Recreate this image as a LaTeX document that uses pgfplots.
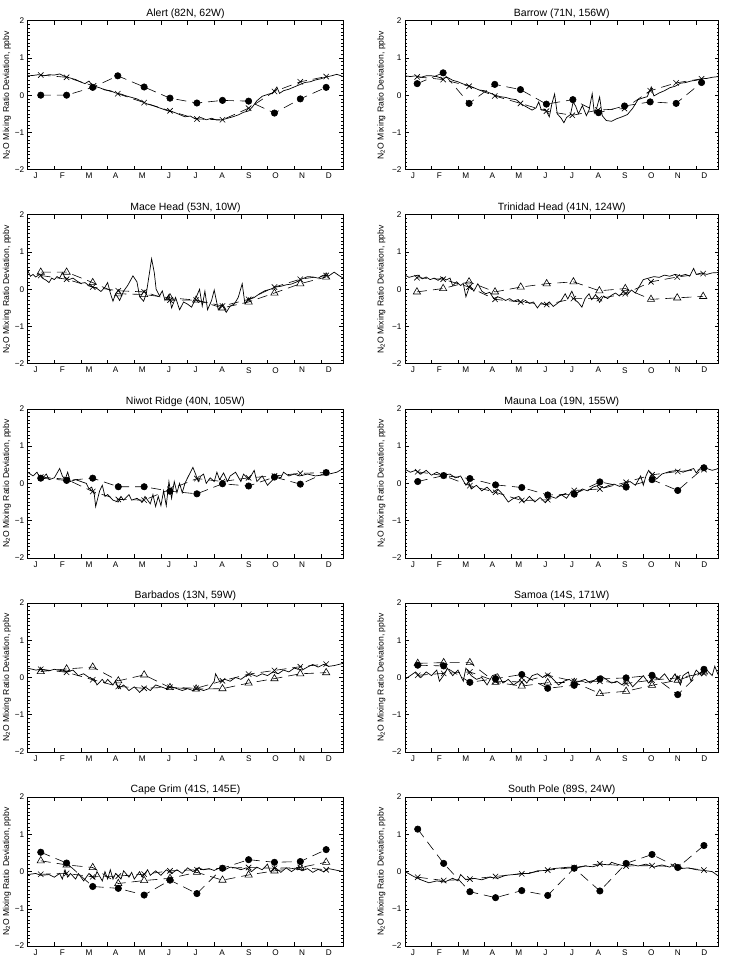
\documentclass[border=0pt]{standalone}
\usepackage{fontspec}
\setmainfont{Liberation Sans}
\usepackage{pgfplots}
\pgfplotsset{compat=1.18}

\pgfplotsset{
  station/.style={
    scale only axis, height=149pt,
    anchor=south west,
    xmin=0, xmax=11.84, ymin=-2, ymax=2,
    xtick={1,2,...,11}, xticklabels={},
    extra x ticks={0.3,1.3,2.3,3.3,4.3,5.3,6.3,7.3,8.3,9.3,10.3,11.3},
    extra x tick labels={J,F,M,A,M,J,J,A,S,O,N,D},
    extra x tick style={major tick length=0pt},
    ytick={-2,-1,0,1,2}, yticklabels={−2,−1,0,1,2},
    minor y tick num=9,
    major tick length=4pt, minor tick length=2pt,
    tick style={black, line width=0.6pt},
    axis line style={line width=0.7pt},
    ticklabel style={font=\fontsize{8.2}{9}\selectfont},
    title style={font=\fontsize{10.5}{12}\selectfont, yshift=-7.5pt},
    ylabel={N\textsubscript{2}O Mixing Ratio Deviation, ppbv},
  },
  leftcol/.style={station, width=315.5pt,
    every axis y label/.style={at={(axis description cs:-0.066,0.5)}, rotate=90, anchor=center,
      font=\fontsize{8.6}{9}\selectfont}},
  rightcol/.style={station, width=313.5pt,
    every axis y label/.style={at={(axis description cs:-0.075,0.5)}, rotate=90, anchor=center,
      font=\fontsize{8.6}{9}\selectfont}},
  obs/.style={black, line width=0.7pt, no markers},
  xser/.style={black, line width=0.6pt, dash pattern=on 10pt off 6pt, mark=x, mark size=3.8pt, mark options={solid}},
  cser/.style={black, line width=0.6pt, dash pattern=on 10pt off 6pt, mark=*, mark size=3.2pt, mark options={solid, fill=black}},
  tser/.style={black, line width=0.6pt, dash pattern=on 10pt off 6pt, mark=triangle, mark size=4.2pt, mark options={solid, fill=none}},
}

\begin{document}
\begin{tikzpicture}
\useasboundingbox (0,0) rectangle (734pt,957pt);

% ---- row 1
\begin{axis}[leftcol, at={(27.7pt,787.3pt)}, title={Alert (82N, 62W)}]
\addplot[obs] coordinates {(0,0.52)(0.2,0.53)(0.4,0.55)(0.6,0.52)(0.8,0.55)(1.0,0.54)(1.2,0.57)(1.4,0.50)(1.6,0.46)(1.8,0.42)(2.0,0.35)(2.15,0.31)(2.3,0.38)(2.4,0.28)(2.5,0.24)(2.7,0.20)(2.9,0.14)(3.1,0.12)(3.3,0.06)(3.5,0.03)(3.7,-0.02)(3.9,-0.06)(4.1,-0.10)(4.3,-0.17)(4.5,-0.24)(4.7,-0.28)(4.9,-0.33)(5.1,-0.38)(5.3,-0.43)(5.5,-0.46)(5.7,-0.52)(5.9,-0.58)(6.1,-0.56)(6.3,-0.64)(6.5,-0.60)(6.7,-0.66)(6.9,-0.62)(7.1,-0.67)(7.3,-0.66)(7.5,-0.62)(7.7,-0.58)(7.9,-0.53)(8.1,-0.46)(8.3,-0.42)(8.45,-0.30)(8.6,-0.15)(8.8,-0.03)(9.0,0.02)(9.2,0.06)(9.35,0.22)(9.45,0.05)(9.6,0.12)(9.8,0.16)(10.0,0.22)(10.2,0.28)(10.4,0.34)(10.6,0.36)(10.8,0.41)(11.0,0.44)(11.2,0.49)(11.4,0.52)(11.6,0.56)(11.84,0.50)};
\addplot[xser] coordinates {(0.49,0.54)(1.46,0.48)(2.47,0.25)(3.38,0.04)(4.37,-0.20)(5.34,-0.42)(6.35,-0.64)(7.31,-0.66)(8.29,-0.35)(9.26,0.10)(10.23,0.36)(11.2,0.50)};
\addplot[cser] coordinates {(0.49,0.0)(1.46,0.0)(2.44,0.21)(3.38,0.52)(4.37,0.22)(5.34,-0.08)(6.35,-0.21)(7.31,-0.14)(8.29,-0.16)(9.26,-0.48)(10.23,-0.10)(11.2,0.21)};
\end{axis}

\begin{axis}[rightcol, at={(405pt,787.3pt)}, title={Barrow (71N, 156W)}]
\addplot[obs] coordinates {(0,0.52)(0.2,0.50)(0.4,0.52)(0.6,0.48)(0.8,0.52)(1.0,0.52)(1.2,0.50)(1.4,0.45)(1.6,0.48)(1.8,0.40)(2.0,0.36)(2.2,0.30)(2.4,0.26)(2.6,0.20)(2.8,0.14)(3.0,0.12)(3.2,0.06)(3.4,0.0)(3.6,-0.04)(3.8,-0.06)(4.0,-0.10)(4.2,-0.12)(4.4,-0.24)(4.6,-0.32)(4.8,-0.40)(4.95,-0.34)(5.05,-0.18)(5.15,-0.40)(5.3,-0.38)(5.45,-0.58)(5.55,-0.22)(5.65,0.03)(5.75,-0.50)(5.9,-0.62)(6.0,-0.74)(6.1,-0.60)(6.25,-0.52)(6.35,-0.18)(6.45,-0.30)(6.55,-0.50)(6.7,-0.28)(6.85,-0.55)(6.95,-0.40)(7.07,0.04)(7.15,-0.48)(7.25,-0.32)(7.35,-0.05)(7.45,-0.55)(7.6,-0.68)(7.8,-0.70)(8.0,-0.63)(8.2,-0.58)(8.4,-0.52)(8.6,-0.35)(8.8,-0.12)(9.0,-0.07)(9.15,-0.04)(9.3,0.22)(9.4,-0.02)(9.6,0.06)(9.8,0.12)(10.0,0.20)(10.2,0.24)(10.4,0.32)(10.6,0.34)(10.8,0.38)(11.0,0.40)(11.2,0.44)(11.4,0.45)(11.6,0.48)(11.84,0.50)};
\addplot[xser] coordinates {(0.46,0.49)(1.44,0.42)(2.42,0.24)(3.39,-0.02)(4.36,-0.22)(5.34,-0.43)(6.32,-0.54)(7.29,-0.40)(8.29,-0.36)(9.26,0.12)(10.24,0.33)(11.2,0.44)};
\addplot[cser] coordinates {(0.46,0.31)(1.44,0.60)(2.42,-0.22)(3.39,0.29)(4.36,0.15)(5.34,-0.24)(6.34,-0.12)(7.31,-0.47)(8.29,-0.29)(9.26,-0.18)(10.24,-0.22)(11.2,0.34)};
\end{axis}

% ---- row 2
\begin{axis}[leftcol, at={(27.7pt,593.2pt)}, title={Mace Head (53N, 10W)}]
\addplot[obs] coordinates {(0,0.51)(0.1,0.35)(0.2,0.40)(0.3,0.33)(0.45,0.40)(0.55,0.30)(0.7,0.24)(0.8,0.18)(0.9,0.30)(1.0,0.26)(1.1,0.34)(1.2,0.30)(1.3,0.45)(1.4,0.32)(1.55,0.26)(1.7,0.30)(1.85,0.22)(2.0,0.16)(2.15,0.18)(2.3,0.10)(2.45,0.06)(2.6,0.02)(2.75,-0.06)(2.9,0.06)(3.0,0.18)(3.1,-0.10)(3.2,-0.32)(3.3,-0.12)(3.45,-0.30)(3.6,-0.05)(3.75,0.10)(3.95,0.36)(4.1,0.20)(4.2,-0.20)(4.35,-0.32)(4.45,-0.12)(4.55,0.35)(4.65,0.82)(4.75,0.45)(4.82,0.0)(4.95,-0.18)(5.05,-0.04)(5.15,-0.30)(5.3,-0.14)(5.4,-0.50)(5.55,-0.22)(5.7,-0.55)(5.85,-0.34)(6.0,-0.40)(6.15,-0.48)(6.3,-0.25)(6.45,0.0)(6.55,-0.45)(6.65,-0.05)(6.75,-0.55)(6.9,-0.30)(7.0,-0.02)(7.15,-0.55)(7.3,-0.42)(7.45,-0.62)(7.6,-0.45)(7.75,-0.40)(7.9,-0.22)(8.05,0.15)(8.15,-0.38)(8.3,-0.28)(8.5,-0.22)(8.7,-0.12)(8.9,-0.04)(9.1,0.0)(9.3,0.06)(9.5,0.08)(9.7,0.12)(9.9,0.14)(10.1,0.20)(10.3,0.28)(10.5,0.34)(10.7,0.33)(10.9,0.30)(11.1,0.38)(11.3,0.36)(11.5,0.46)(11.7,0.36)(11.84,0.30)};
\addplot[xser] coordinates {(0.49,0.37)(1.46,0.27)(2.44,0.06)(3.40,-0.04)(4.37,-0.07)(5.34,-0.29)(6.32,-0.29)(7.31,-0.45)(8.29,-0.27)(9.26,0.06)(10.23,0.27)(11.2,0.37)};
\addplot[tser] coordinates {(0.49,0.46)(1.46,0.46)(2.44,0.18)(3.40,-0.12)(4.37,-0.14)(5.34,-0.23)(6.32,-0.29)(7.31,-0.50)(8.29,-0.34)(9.26,-0.10)(10.23,0.15)(11.2,0.33)};
\end{axis}

\begin{axis}[rightcol, at={(405pt,593.2pt)}, title={Trinidad Head (41N, 124W)}]
\addplot[obs] coordinates {(0,0.38)(0.15,0.32)(0.3,0.35)(0.5,0.38)(0.65,0.28)(0.8,0.33)(0.95,0.26)(1.1,0.30)(1.25,0.24)(1.4,0.32)(1.55,0.25)(1.7,0.30)(1.8,0.10)(1.95,0.20)(2.1,0.10)(2.2,0.16)(2.3,-0.20)(2.45,0.10)(2.6,-0.05)(2.75,0.15)(2.9,-0.05)(3.05,-0.12)(3.2,-0.08)(3.35,-0.25)(3.5,-0.20)(3.65,-0.24)(3.8,-0.30)(3.95,-0.25)(4.1,-0.32)(4.25,-0.28)(4.4,-0.36)(4.55,-0.30)(4.7,-0.38)(4.85,-0.34)(5.0,-0.50)(5.15,-0.36)(5.3,-0.42)(5.45,-0.34)(5.6,-0.46)(5.75,-0.38)(5.9,-0.30)(6.05,-0.12)(6.15,-0.26)(6.3,-0.05)(6.45,-0.30)(6.55,-0.36)(6.68,-0.48)(6.8,-0.25)(6.95,-0.12)(7.05,-0.28)(7.2,-0.14)(7.35,-0.35)(7.5,-0.18)(7.65,-0.25)(7.8,-0.16)(7.95,-0.10)(8.1,-0.18)(8.25,-0.05)(8.4,-0.14)(8.55,-0.02)(8.7,-0.10)(8.85,0.08)(9.0,0.26)(9.2,0.30)(9.4,0.34)(9.6,0.32)(9.8,0.38)(10.0,0.35)(10.2,0.40)(10.4,0.36)(10.6,0.40)(10.75,0.35)(10.9,0.56)(11.0,0.40)(11.2,0.44)(11.4,0.40)(11.6,0.44)(11.84,0.45)};
\addplot[xser] coordinates {(0.45,0.31)(1.44,0.27)(2.42,0.06)(3.40,-0.27)(4.37,-0.34)(5.35,-0.41)(6.36,-0.25)(7.34,-0.25)(8.32,-0.12)(9.29,0.20)(10.28,0.33)(11.26,0.42)};
\addplot[tser] coordinates {(0.45,-0.07)(1.44,0.02)(2.42,0.20)(3.40,-0.07)(4.37,0.06)(5.35,0.15)(6.36,0.20)(7.34,-0.04)(8.32,0.02)(9.29,-0.27)(10.28,-0.23)(11.26,-0.19)};
\end{axis}

% ---- row 3
\begin{axis}[leftcol, at={(27.7pt,399.1pt)}, title={Niwot Ridge (40N, 105W)}]
\addplot[obs] coordinates {(0,0.30)(0.2,0.20)(0.35,0.30)(0.5,0.10)(0.7,0.25)(0.8,0.10)(1.0,0.15)(1.2,0.40)(1.3,0.20)(1.4,0.10)(1.5,0.30)(1.6,0.05)(1.8,0.10)(2.0,0.05)(2.2,0.0)(2.3,-0.15)(2.4,-0.10)(2.5,-0.30)(2.55,-0.62)(2.7,-0.20)(2.8,-0.05)(2.9,-0.35)(3.0,-0.30)(3.2,-0.45)(3.4,-0.50)(3.5,-0.35)(3.6,-0.45)(3.8,-0.30)(3.9,-0.45)(4.1,-0.40)(4.3,-0.50)(4.4,-0.35)(4.6,-0.55)(4.7,-0.30)(4.8,-0.62)(4.9,-0.35)(5.0,-0.60)(5.1,-0.20)(5.2,-0.60)(5.3,0.05)(5.4,-0.40)(5.5,0.05)(5.6,-0.25)(5.7,0.0)(5.8,-0.25)(5.9,0.0)(6.0,0.15)(6.2,0.43)(6.3,0.25)(6.4,0.05)(6.5,0.20)(6.6,0.25)(6.7,0.0)(6.85,0.15)(7.0,0.05)(7.1,0.30)(7.2,0.10)(7.35,0.28)(7.5,0.05)(7.6,0.20)(7.8,0.30)(8.0,0.05)(8.1,0.25)(8.3,0.10)(8.5,0.35)(8.6,0.05)(8.8,0.20)(9.0,-0.05)(9.2,0.10)(9.3,0.20)(9.5,0.15)(9.6,0.30)(9.8,0.20)(10.0,0.25)(10.2,0.20)(10.5,0.25)(10.8,0.20)(11.0,0.22)(11.3,0.25)(11.6,0.30)(11.84,0.40)};
\addplot[xser] coordinates {(0.49,0.17)(1.46,0.11)(2.44,-0.22)(3.40,-0.43)(4.37,-0.45)(5.34,-0.16)(6.35,0.13)(7.31,0.05)(8.29,0.15)(9.26,0.20)(10.23,0.27)(11.2,0.29)};
\addplot[cser] coordinates {(0.49,0.14)(1.46,0.08)(2.44,0.14)(3.40,-0.09)(4.37,-0.09)(5.34,-0.21)(6.35,-0.28)(7.31,-0.01)(8.29,-0.07)(9.26,0.17)(10.23,-0.02)(11.2,0.29)};
\end{axis}

\begin{axis}[rightcol, at={(405pt,399.1pt)}, title={Mauna Loa (19N, 155W)}]
\addplot[obs] coordinates {(0,0.38)(0.2,0.30)(0.4,0.35)(0.6,0.25)(0.8,0.35)(1.0,0.22)(1.2,0.30)(1.4,0.22)(1.7,0.25)(1.9,0.15)(2.1,0.20)(2.3,-0.05)(2.4,0.05)(2.5,-0.15)(2.7,-0.05)(2.9,-0.20)(3.1,-0.10)(3.3,-0.25)(3.5,-0.15)(3.7,-0.30)(3.9,-0.50)(4.1,-0.40)(4.3,-0.35)(4.5,-0.50)(4.7,-0.35)(4.9,-0.50)(5.1,-0.38)(5.3,-0.52)(5.5,-0.35)(5.7,-0.40)(5.9,-0.30)(6.1,-0.40)(6.3,-0.20)(6.5,-0.25)(6.7,-0.15)(6.9,-0.20)(7.1,-0.10)(7.3,-0.05)(7.5,-0.12)(7.7,-0.05)(7.9,-0.02)(8.1,-0.08)(8.3,0.0)(8.5,0.05)(8.7,-0.05)(8.9,0.20)(9.0,-0.05)(9.1,0.20)(9.2,0.35)(9.4,0.20)(9.5,0.12)(9.7,0.25)(10.0,0.32)(10.3,0.35)(10.5,0.30)(10.7,0.35)(10.9,0.40)(11.0,0.28)(11.2,0.45)(11.4,0.40)(11.6,0.35)(11.84,0.40)};
\addplot[xser] coordinates {(0.48,0.31)(1.46,0.21)(2.45,-0.06)(3.42,-0.24)(4.41,-0.46)(5.39,-0.44)(6.39,-0.19)(7.36,-0.15)(8.35,0.03)(9.33,0.23)(10.30,0.32)(11.29,0.37)};
\addplot[cser] coordinates {(0.48,0.05)(1.46,0.21)(2.45,0.13)(3.42,-0.04)(4.41,-0.11)(5.39,-0.31)(6.39,-0.29)(7.36,0.04)(8.35,-0.10)(9.33,0.10)(10.30,-0.19)(11.29,0.42)};
\end{axis}

% ---- row 4
\begin{axis}[leftcol, at={(27.7pt,205pt)}, title={Barbados (13N, 59W)}]
\addplot[obs] coordinates {(0,0.25)(0.3,0.20)(0.5,0.22)(0.8,0.18)(1.0,0.22)(1.3,0.18)(1.5,0.15)(1.7,0.20)(1.9,0.05)(2.1,0.10)(2.3,0.0)(2.5,-0.05)(2.6,-0.20)(2.8,-0.05)(2.9,-0.15)(3.0,-0.05)(3.2,-0.20)(3.3,-0.08)(3.4,-0.30)(3.6,-0.20)(3.8,-0.35)(4.0,-0.25)(4.2,-0.40)(4.4,-0.25)(4.6,-0.35)(4.8,-0.20)(5.0,-0.25)(5.2,-0.30)(5.4,-0.25)(5.6,-0.30)(5.8,-0.35)(6.0,-0.30)(6.2,-0.35)(6.4,-0.30)(6.6,-0.35)(6.8,-0.30)(7.0,-0.10)(7.05,0.10)(7.2,-0.10)(7.4,-0.05)(7.6,-0.10)(7.8,0.0)(8.0,-0.05)(8.2,0.05)(8.4,0.08)(8.6,0.03)(8.8,0.10)(9.0,0.05)(9.2,0.15)(9.4,0.10)(9.6,0.20)(9.8,0.15)(10.0,0.25)(10.3,0.20)(10.5,0.28)(10.7,0.35)(10.9,0.28)(11.1,0.35)(11.3,0.30)(11.5,0.32)(11.84,0.38)};
\addplot[xser] coordinates {(0.49,0.22)(1.46,0.14)(2.44,-0.06)(3.40,-0.24)(4.37,-0.29)(5.34,-0.26)(6.32,-0.29)(7.31,-0.09)(8.29,0.09)(9.26,0.19)(10.23,0.29)(11.2,0.36)};
\addplot[tser] coordinates {(0.49,0.16)(1.46,0.23)(2.44,0.28)(3.40,-0.09)(4.37,0.07)(5.34,-0.27)(6.32,-0.31)(7.31,-0.30)(8.29,-0.15)(9.26,-0.03)(10.23,0.10)(11.2,0.13)};
\end{axis}

\begin{axis}[rightcol, at={(405pt,205pt)}, title={Samoa (14S, 171W)}]
\addplot[obs] coordinates {(0,-0.05)(0.2,0.05)(0.4,0.15)(0.6,0.0)(0.8,0.15)(1.0,0.05)(1.2,0.20)(1.3,-0.10)(1.5,0.10)(1.6,0.25)(1.8,0.05)(2.0,0.20)(2.2,-0.10)(2.3,0.25)(2.5,0.05)(2.7,-0.05)(2.9,0.0)(3.1,-0.20)(3.3,0.05)(3.5,0.10)(3.7,-0.15)(3.9,-0.05)(4.1,-0.20)(4.3,-0.10)(4.4,0.0)(4.6,-0.15)(4.8,0.05)(5.0,0.10)(5.2,0.0)(5.4,0.10)(5.6,-0.05)(5.8,-0.20)(6.0,-0.10)(6.2,-0.05)(6.4,-0.15)(6.6,-0.10)(6.8,-0.05)(7.0,-0.15)(7.2,-0.05)(7.4,0.05)(7.6,-0.05)(7.8,-0.15)(8.0,-0.10)(8.2,-0.20)(8.4,-0.05)(8.6,-0.25)(8.8,-0.10)(9.0,0.05)(9.2,-0.15)(9.4,0.05)(9.6,-0.05)(9.8,0.10)(10.0,-0.10)(10.2,0.10)(10.4,-0.20)(10.5,0.05)(10.7,0.15)(10.8,-0.10)(11.0,0.20)(11.2,0.05)(11.4,0.20)(11.6,0.05)(11.7,0.30)(11.84,0.05)};
\addplot[xser] coordinates {(0.48,0.06)(1.46,0.11)(2.45,0.15)(3.42,-0.10)(4.41,-0.12)(5.39,0.06)(6.39,-0.10)(7.36,-0.10)(8.35,-0.16)(9.33,-0.07)(10.30,-0.01)(11.29,0.11)};
\addplot[tser] coordinates {(0.48,0.38)(1.46,0.40)(2.45,0.40)(3.42,-0.13)(4.41,-0.23)(5.39,-0.14)(6.39,-0.13)(7.36,-0.43)(8.35,-0.37)(9.33,-0.21)(10.30,-0.07)(11.29,0.15)};
\addplot[cser] coordinates {(0.48,0.33)(1.46,0.31)(2.45,-0.13)(3.42,-0.03)(4.41,0.08)(5.39,-0.29)(6.39,-0.21)(7.36,-0.04)(8.35,-0.01)(9.33,0.06)(10.30,-0.46)(11.29,0.22)};
\end{axis}

% ---- row 5
\begin{axis}[leftcol, at={(27.7pt,10.9pt)}, title={Cape Grim (41S, 145E)}]
\addplot[obs] coordinates {(0,-0.08)(0.3,-0.05)(0.5,-0.10)(0.8,-0.08)(1.0,-0.15)(1.2,-0.05)(1.3,-0.20)(1.4,0.05)(1.5,-0.15)(1.6,-0.05)(1.8,-0.20)(1.9,-0.05)(2.1,-0.25)(2.3,-0.05)(2.5,-0.20)(2.6,0.0)(2.8,-0.25)(2.9,0.0)(3.0,-0.20)(3.1,0.05)(3.2,-0.20)(3.3,-0.05)(3.5,-0.20)(3.6,0.02)(3.8,-0.15)(3.9,-0.02)(4.0,-0.20)(4.2,0.0)(4.3,-0.15)(4.5,0.05)(4.6,-0.10)(4.8,0.02)(5.0,-0.10)(5.2,0.05)(5.4,-0.05)(5.6,0.05)(5.8,-0.05)(6.0,0.10)(6.2,0.0)(6.4,0.10)(6.6,0.05)(6.8,0.08)(7.0,0.03)(7.2,0.10)(7.4,0.05)(7.6,0.12)(7.8,0.10)(8.0,0.05)(8.2,0.10)(8.4,0.0)(8.6,0.12)(8.8,0.05)(9.0,0.20)(9.1,0.0)(9.3,0.10)(9.5,-0.02)(9.7,0.10)(9.9,0.0)(10.1,0.10)(10.3,0.02)(10.5,0.08)(10.7,-0.02)(10.9,0.06)(11.1,0.0)(11.3,0.08)(11.5,0.05)(11.84,0.0)};
\addplot[xser] coordinates {(0.49,-0.07)(1.46,-0.05)(2.44,-0.14)(3.40,-0.12)(4.37,-0.07)(5.34,0.02)(6.35,0.05)(7.31,0.09)(8.29,0.11)(9.26,0.09)(10.23,0.11)(11.2,0.05)};
\addplot[tser] coordinates {(0.49,0.29)(1.46,0.18)(2.44,0.11)(3.40,-0.32)(4.37,-0.24)(5.34,-0.18)(6.35,-0.02)(7.31,-0.23)(8.29,-0.09)(9.26,0.02)(10.23,0.11)(11.2,0.25)};
\addplot[cser] coordinates {(0.49,0.52)(1.46,0.23)(2.44,-0.40)(3.40,-0.45)(4.37,-0.63)(5.34,-0.23)(6.35,-0.59)(7.31,0.09)(8.29,0.32)(9.26,0.25)(10.23,0.27)(11.2,0.59)};
\end{axis}

\begin{axis}[rightcol, at={(405pt,10.9pt)}, title={South Pole (89S, 24W)}]
\addplot[obs] coordinates {(0,0.0)(0.3,-0.12)(0.6,-0.22)(0.9,-0.30)(1.2,-0.25)(1.5,-0.28)(1.8,-0.18)(2.0,-0.25)(2.1,-0.08)(2.3,-0.22)(2.6,-0.18)(2.9,-0.22)(3.2,-0.15)(3.5,-0.18)(3.8,-0.10)(4.1,-0.08)(4.4,-0.05)(4.7,-0.05)(5.0,0.02)(5.3,0.03)(5.6,0.08)(5.9,0.10)(6.2,0.12)(6.5,0.10)(6.8,0.15)(7.1,0.13)(7.4,0.20)(7.7,0.18)(7.8,0.25)(8.0,0.20)(8.3,0.15)(8.5,0.20)(8.8,0.15)(9.1,0.20)(9.4,0.12)(9.7,0.18)(10.0,0.12)(10.2,0.22)(10.4,0.08)(10.7,0.10)(11.0,0.05)(11.3,0.03)(11.6,0.0)(11.84,-0.12)};
\addplot[xser] coordinates {(0.48,-0.15)(1.46,-0.24)(2.45,-0.20)(3.42,-0.13)(4.41,-0.06)(5.39,0.04)(6.39,0.11)(7.36,0.21)(8.35,0.15)(9.33,0.16)(10.30,0.13)(11.29,0.04)};
\addplot[cser] coordinates {(0.48,1.14)(1.46,0.22)(2.45,-0.54)(3.42,-0.70)(4.41,-0.51)(5.39,-0.64)(6.39,0.09)(7.36,-0.52)(8.35,0.22)(9.33,0.46)(10.30,0.11)(11.29,0.70)};
\end{axis}
\end{tikzpicture}
\end{document}
